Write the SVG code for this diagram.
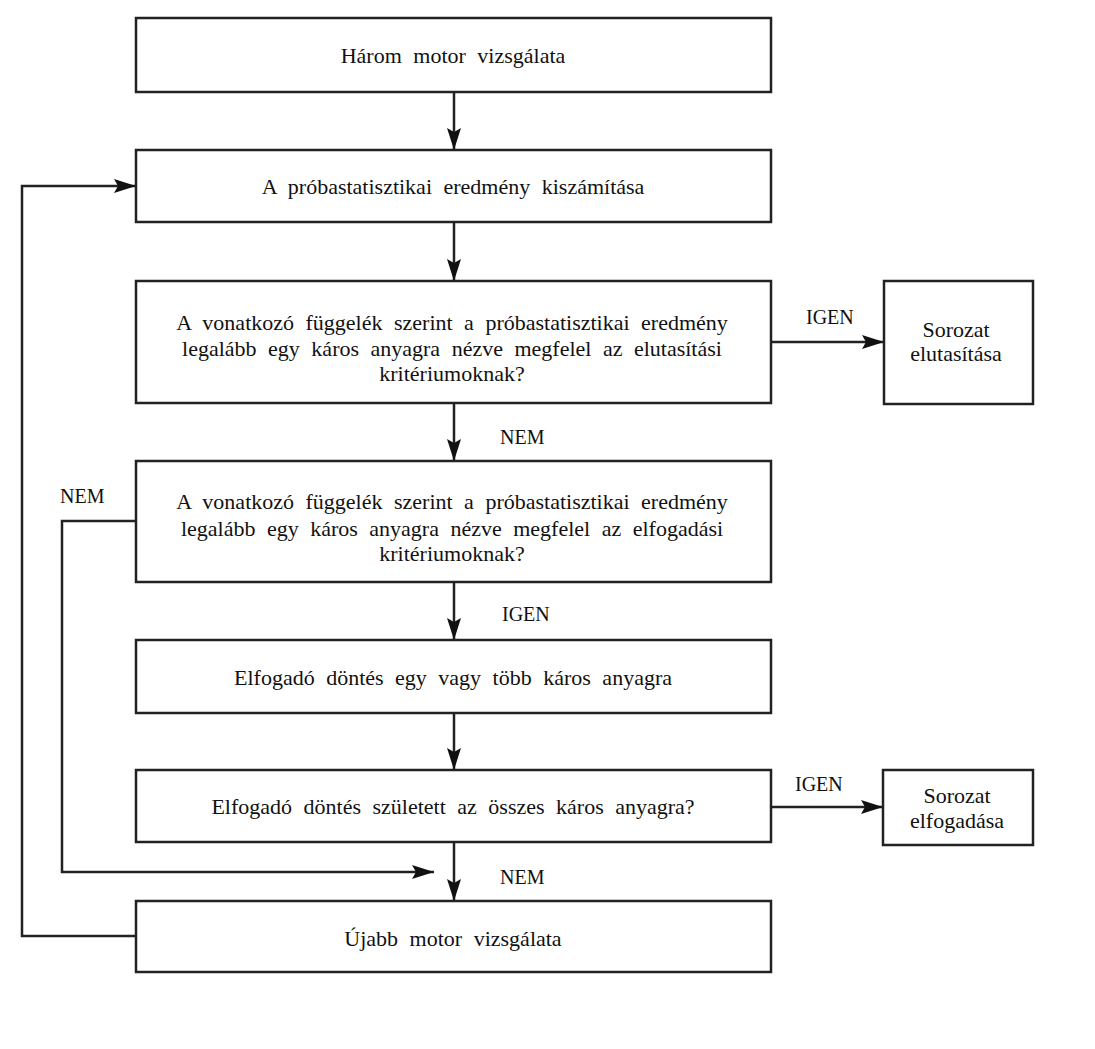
<svg xmlns="http://www.w3.org/2000/svg" width="1095" height="1049" viewBox="0 0 1095 1049">
<defs>
<marker id="ah" viewBox="0 0 22 14" refX="22" refY="7" markerWidth="22" markerHeight="14" markerUnits="userSpaceOnUse" orient="auto">
<path d="M0,0 L22,7 L0,14 L4,7 z" fill="#111"/>
</marker>
<style>
.box{fill:#fff;stroke:#222;stroke-width:2.5}
.t{font-family:"Liberation Serif","Times New Roman",serif;font-size:22px;fill:#111;text-anchor:middle;word-spacing:6px}
.l{font-family:"Liberation Serif","Times New Roman",serif;font-size:20px;fill:#111}
.c{fill:none;stroke:#222;stroke-width:2.5}
</style>
</defs>
<rect width="1095" height="1049" fill="#fff"/>
<g id="connectors">
<line class="c" x1="454" y1="92" x2="454" y2="150" marker-end="url(#ah)"/>
<line class="c" x1="454" y1="222" x2="454" y2="281" marker-end="url(#ah)"/>
<line class="c" x1="454" y1="403" x2="454" y2="461" marker-end="url(#ah)"/>
<line class="c" x1="454" y1="582" x2="454" y2="640" marker-end="url(#ah)"/>
<line class="c" x1="454" y1="713" x2="454" y2="770" marker-end="url(#ah)"/>
<line class="c" x1="454" y1="842" x2="454" y2="901" marker-end="url(#ah)"/>
<line class="c" x1="771" y1="342" x2="884" y2="342" marker-end="url(#ah)"/>
<line class="c" x1="771" y1="807" x2="883" y2="807" marker-end="url(#ah)"/>
<polyline class="c" points="136,521 62,521 62,872 434,872" marker-end="url(#ah)"/>
<polyline class="c" points="136,936 22,936 22,186 136,186" marker-end="url(#ah)"/>
<text class="l" x="806" y="324">IGEN</text>
<text class="l" x="500" y="444">NEM</text>
<text class="l" x="60" y="503">NEM</text>
<text class="l" x="502" y="621">IGEN</text>
<text class="l" x="795" y="791">IGEN</text>
<text class="l" x="500" y="884">NEM</text>
</g>
<g id="n1"><rect class="box" x="136" y="18" width="635" height="74"/><text class="t" x="453" y="63">Három motor vizsgálata</text></g>
<g id="n2"><rect class="box" x="136" y="150" width="635" height="72"/><text class="t" x="453" y="194">A próbastatisztikai eredmény kiszámítása</text></g>
<g id="n3"><rect class="box" x="136" y="281" width="635" height="122"/>
<text class="t" x="452" y="330">A vonatkozó függelék szerint a próbastatisztikai eredmény</text>
<text class="t" x="452" y="356">legalább egy káros anyagra nézve megfelel az elutasítási</text>
<text class="t" x="452" y="381">kritériumoknak?</text></g>
<g id="n3b"><rect class="box" x="884" y="281" width="149" height="123"/>
<text class="t" x="956" y="337">Sorozat</text><text class="t" x="956" y="361">elutasítása</text></g>
<g id="n4"><rect class="box" x="136" y="461" width="635" height="121"/>
<text class="t" x="452" y="509">A vonatkozó függelék szerint a próbastatisztikai eredmény</text>
<text class="t" x="452" y="536">legalább egy káros anyagra nézve megfelel az elfogadási</text>
<text class="t" x="452" y="561">kritériumoknak?</text></g>
<g id="n5"><rect class="box" x="136" y="640" width="635" height="73"/><text class="t" x="453" y="685">Elfogadó döntés egy vagy több káros anyagra</text></g>
<g id="n6"><rect class="box" x="136" y="770" width="635" height="72"/><text class="t" x="453" y="814">Elfogadó döntés született az összes káros anyagra?</text></g>
<g id="n6b"><rect class="box" x="883" y="770" width="150" height="75"/>
<text class="t" x="957" y="803">Sorozat</text><text class="t" x="957" y="828">elfogadása</text></g>
<g id="n7"><rect class="box" x="136" y="901" width="635" height="71"/><text class="t" x="453" y="946">Újabb motor vizsgálata</text></g>
</svg>
